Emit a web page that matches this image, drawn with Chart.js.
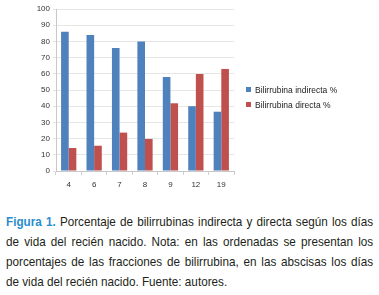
<!DOCTYPE html>
<html>
<head>
<meta charset="utf-8">
<script src="https://cdn.jsdelivr.net/npm/chart.js@4"></script>
<style>
  html, body { margin: 0; padding: 0; background: #ffffff; }
  body { width: 379px; height: 295px; overflow: hidden; position: relative; }
  #wrap { position: absolute; left: 0; top: 0; width: 379px; height: 198px; }
  #legend {
    position: absolute; left: 246px; top: 84px;
    font-family: "Liberation Sans", Arial, sans-serif;
    font-size: 8.5px; color: #222;
  }
  #legend div { height: 14.5px; line-height: 12px; white-space: nowrap; }
  #legend span { display: inline-block; width: 5px; height: 5px; margin-right: 4px; vertical-align: 1px; }
  #caption {
    position: absolute; left: 6px; top: 211.5px; width: 408px;
    transform: scaleX(0.9); transform-origin: left top;
    font-family: "Liberation Sans", Arial, sans-serif;
    font-size: 13px; line-height: 20px; color: #231f20;
  }
  #caption div { text-align: justify; text-align-last: justify; white-space: nowrap; }
  #caption div.last { text-align-last: left; }
  #caption b { color: #2a8ccc; }
</style>
</head>
<body>
<div id="wrap"><canvas id="chart"></canvas></div>
<div id="legend"></div>
<div id="caption">
  <div><b>Figura 1.</b> Porcentaje de bilirrubinas indirecta y directa según los días</div>
  <div>de vida del recién nacido. Nota: en las ordenadas se presentan los</div>
  <div>porcentajes de las fracciones de bilirrubina, en las abscisas los días</div>
  <div class="last">de vida del recién nacido. Fuente: autores.</div>
</div>
<script>
// Days of life (x categories)
const days = ['4', '6', '7', '8', '9', '12', '19'];
// Percent of each fraction
const indirecta = [86, 84, 76, 80, 58, 40, 36.6];
const directa = [14.2, 15.6, 23.7, 19.8, 41.8, 59.9, 63];
const yTicks = [0, 10, 20, 30, 40, 50, 60, 70, 80, 90, 100];

const BLUE = '#4f81bd';
const RED = '#c0504d';
const tickFont = { family: 'Liberation Sans', size: 8 };

const chart = new Chart(document.getElementById('chart').getContext('2d'), {
    type: 'bar',
    data: {
        labels: days,
        datasets: [
            { label: 'Bilirrubina indirecta %', data: indirecta, backgroundColor: BLUE, borderWidth: 0 },
            { label: 'Bilirrubina directa %', data: directa, backgroundColor: RED, borderWidth: 0 }
        ]
    },
    options: {
        responsive: true,
        maintainAspectRatio: false,
        animation: false,
        datasets: { bar: { barPercentage: 1, categoryPercentage: 0.6 } },
        layout: { padding: { left: 0, top: 9, right: 145, bottom: 0 } },
        plugins: {
            tooltip: { enabled: false },
            legend: { display: false }
        },
        scales: {
            x: {
                afterFit: axis => { axis.height = 27; },
                grid: { display: true, drawOnChartArea: false, tickLength: 4, color: '#d0d0d0' },
                border: { color: '#c8c8c8' },
                ticks: { color: '#333', padding: 5, font: tickFont }
            },
            y: {
                min: 0, max: 100,
                afterBuildTicks: axis => { axis.ticks = yTicks.map(v => ({ value: v })); },
                afterFit: axis => { axis.width = 56; },
                grid: { color: '#e6e6e6', drawTicks: true, tickLength: 3 },
                border: { color: '#c8c8c8' },
                ticks: { color: '#333', padding: 3, font: tickFont }
            }
        }
    }
});

// HTML legend built from the chart's datasets
const legend = document.getElementById('legend');
chart.data.datasets.forEach(ds => {
    const row = document.createElement('div');
    const box = document.createElement('span');
    box.style.background = ds.backgroundColor;
    row.appendChild(box);
    row.appendChild(document.createTextNode(ds.label));
    legend.appendChild(row);
});
</script>
</body>
</html>
